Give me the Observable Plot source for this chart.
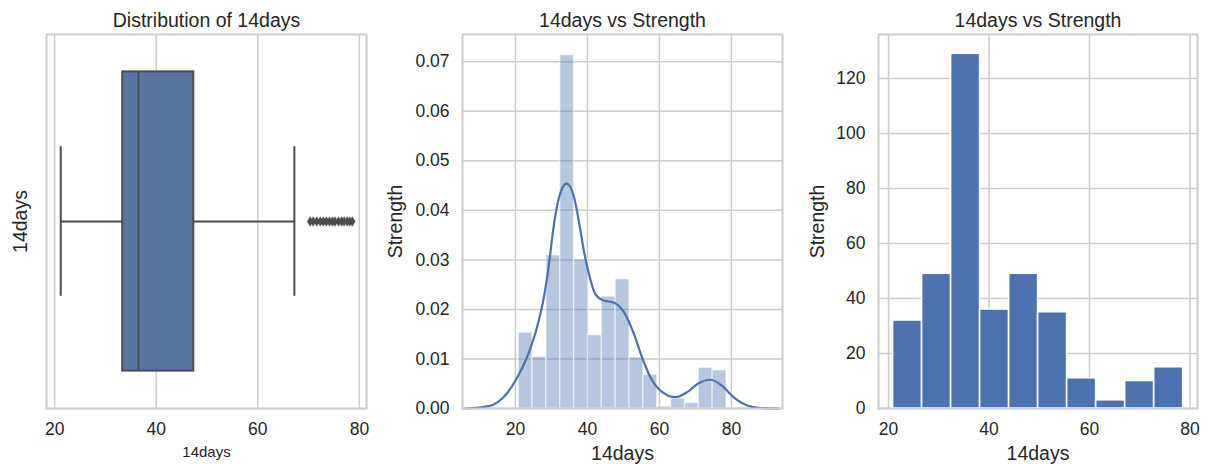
<!DOCTYPE html>
<html>
<head>
<meta charset="utf-8">
<script src="https://cdn.jsdelivr.net/npm/d3@7"></script>
<script src="https://cdn.jsdelivr.net/npm/@observablehq/plot@0.6"></script>
<style>
  html, body { margin: 0; padding: 0; background: white; }
  #wrap { position: relative; width: 1207px; height: 464px; background: white; overflow: hidden; }
  #wrap > svg { position: absolute; top: 0; }
</style>
</head>
<body>
<div id="wrap"></div>
<script>
// ---------- data ----------
const titles = ["Distribution of 14days", "14days vs Strength", "14days vs Strength"];
const xLabel = "14days";
const yLabels = ["14days", "Strength", "Strength"];
const xTicks = [20, 40, 60, 80];

// box plot: whisker low, Q1, median, Q3, whisker high
const boxStats = [21.2, 33.4, 36.5, 47.4, 67.2];
const outliers = [70.3, 70.9, 71.6, 72.3, 72.9, 73.5, 74.1, 74.7, 75.2, 75.9, 76.5, 77.0, 77.6, 78.1, 78.6];

// density histogram + KDE
const densityEdges = [20.9, 24.75, 28.6, 32.45, 36.3, 40.15, 44.0, 47.85, 51.7, 55.55, 59.4, 63.25, 67.1, 70.95, 74.8, 78.65];
const densityValues = [0.0153, 0.0104, 0.0309, 0.0713, 0.0301, 0.0148, 0.0226, 0.0261, 0.0103, 0.0068, 0.0004, 0.0020, 0.0011, 0.0082, 0.0077];
const densityTicks = [0, 0.01, 0.02, 0.03, 0.04, 0.05, 0.06, 0.07];
const kdeX = [6.1, 8.4, 11, 14.0, 16.75, 20, 23.2, 26.0, 27.9, 29.3, 30.6, 32.0, 34.2, 36.2, 37.6, 39.0, 40.4, 42.2, 44.5, 47.3, 50.1, 52.9, 55.2, 57.5, 60.3, 64.4, 67.7, 70.9, 74.2, 77.4, 80.6, 84.4, 88, 93];
const kdeY = [0, 0.0001, 0.0003, 0.0008, 0.0023, 0.0056, 0.0103, 0.0164, 0.0224, 0.0290, 0.0366, 0.0423, 0.0454, 0.0429, 0.0379, 0.0319, 0.0272, 0.0231, 0.0218, 0.0214, 0.0195, 0.0151, 0.0103, 0.0063, 0.0036, 0.0023, 0.0033, 0.0051, 0.0058, 0.0046, 0.0023, 0.0006, 0.0001, 0];

// count histogram
const countEdges = [20.9, 26.675, 32.45, 38.225, 44.0, 49.775, 55.55, 61.325, 67.1, 72.875, 78.65];
const counts = [32, 49, 129, 36, 49, 35, 11, 3, 10, 15];
const countTicks = [0, 20, 40, 60, 80, 100, 120];

// ---------- style ----------
const font = '"Liberation Sans", Arial, Helvetica, sans-serif';
const ink = "#262626";
const gridColor = "#cccccc";
const blue = "#4c72b0";
const boxFill = "#5875a4";
const boxEdge = "#4c4c4c";
const tickFont = 17.5;
const labelFont = 19.5;

const thinDiamond = {
  draw(context, size) {
    const h = Math.sqrt(size) * 0.75;
    const w = h * 0.6;
    context.moveTo(0, -h);
    context.lineTo(w, 0);
    context.lineTo(0, h);
    context.lineTo(-w, 0);
    context.closePath();
  }
};

const common = {
  height: 464,
  marginTop: 34,
  marginBottom: 56,
  style: { fontFamily: font, fontSize: tickFont + "px", color: ink, background: "transparent", overflow: "visible" }
};

function titleMark(t) {
  return Plot.text([t], { text: d => d, frameAnchor: "top", lineAnchor: "middle", textAnchor: "middle", dy: -14, fontSize: labelFont, fill: ink });
}
function xLabelMark(t, size, dy) {
  return Plot.text([t], { text: d => d, frameAnchor: "bottom", lineAnchor: "middle", textAnchor: "middle", dy: dy, fontSize: size, fill: ink });
}
function yLabelMark(t, dx) {
  return Plot.text([t], { text: d => d, frameAnchor: "left", lineAnchor: "middle", textAnchor: "middle", dx: dx, rotate: -90, fontSize: labelFont, fill: ink });
}

// ---------- panel 1: box plot ----------
const box = [{ lo: boxStats[0], q1: boxStats[1], med: boxStats[2], q3: boxStats[3], hi: boxStats[4] }];
const p1 = Plot.plot({
  ...common,
  width: 380,
  marginLeft: 46,
  marginRight: 14,
  x: { domain: [18.4, 81.4], axis: null, label: null },
  y: { domain: [-0.5, 0.5], axis: null, label: null },
  marks: [
    Plot.gridX(xTicks, { stroke: gridColor, strokeOpacity: 1, strokeWidth: 1.5 }),
    Plot.ruleY(box, { y: 0, x1: "lo", x2: "q1", stroke: boxEdge, strokeWidth: 2 }),
    Plot.ruleY(box, { y: 0, x1: "q3", x2: "hi", stroke: boxEdge, strokeWidth: 2 }),
    Plot.ruleX([boxStats[0], boxStats[4]], { x: d => d, y1: -0.2, y2: 0.2, stroke: boxEdge, strokeWidth: 2 }),
    Plot.rect(box, { x1: "q1", x2: "q3", y1: -0.4, y2: 0.4, fill: boxFill, stroke: boxEdge, strokeWidth: 2 }),
    Plot.ruleX(box, { x: "med", y1: -0.4, y2: 0.4, stroke: boxEdge, strokeWidth: 2 }),
    Plot.dot(outliers, { x: d => d, y: 0, symbol: thinDiamond, r: 3.6, fill: boxEdge, stroke: boxEdge, strokeWidth: 0.5 }),
    Plot.frame({ stroke: gridColor, strokeWidth: 2 }),
    Plot.axisX(xTicks, { tickSize: 0, tickPadding: 14, label: null, fontSize: tickFont }),
    titleMark(titles[0]),
    xLabelMark(xLabel, 15, 44),
    yLabelMark(yLabels[0], -26)
  ]
});
p1.style.left = "0px";

// ---------- panel 2: density histogram + KDE ----------
const densityBins = densityValues.map((v, i) => ({ x1: densityEdges[i], x2: densityEdges[i + 1], y: v }));
const kde = kdeX.map((x, i) => ({ x, y: kdeY[i] }));
const p2 = Plot.plot({
  ...common,
  width: 410,
  marginLeft: 82,
  marginRight: 8,
  x: { domain: [5.3, 94.2], axis: null, label: null },
  y: { domain: [0, 0.0755], axis: null, label: null },
  marks: [
    Plot.gridX(xTicks, { stroke: gridColor, strokeOpacity: 1, strokeWidth: 1.5 }),
    Plot.gridY(densityTicks, { stroke: gridColor, strokeOpacity: 1, strokeWidth: 1.5 }),
    Plot.rectY(densityBins, { x1: "x1", x2: "x2", y: "y", fill: blue, fillOpacity: 0.4, stroke: "white", strokeOpacity: 0.5, strokeWidth: 1.5 }),
    Plot.line(kde, { x: "x", y: "y", stroke: blue, strokeWidth: 2.2, curve: "monotone-x" }),
    Plot.frame({ stroke: gridColor, strokeWidth: 2 }),
    Plot.axisX(xTicks, { tickSize: 0, tickPadding: 14, label: null, fontSize: tickFont }),
    Plot.axisY(densityTicks, { tickSize: 0, tickPadding: 13, label: null, tickFormat: d3.format(".2f"), fontSize: tickFont }),
    titleMark(titles[1]),
    xLabelMark(xLabel, labelFont, 45),
    yLabelMark(yLabels[1], -67)
  ]
});
p2.style.left = "380px";

// ---------- panel 3: count histogram ----------
const countBins = counts.map((v, i) => ({ x1: countEdges[i], x2: countEdges[i + 1], y: v }));
const p3 = Plot.plot({
  ...common,
  width: 417,
  marginLeft: 88,
  marginRight: 10,
  x: { domain: [18.0, 81.5], axis: null, label: null },
  y: { domain: [0, 136], axis: null, label: null },
  marks: [
    Plot.gridX(xTicks, { stroke: gridColor, strokeOpacity: 1, strokeWidth: 1.5 }),
    Plot.gridY(countTicks, { stroke: gridColor, strokeOpacity: 1, strokeWidth: 1.5 }),
    Plot.rectY(countBins, { x1: "x1", x2: "x2", y: "y", fill: blue, stroke: "white", strokeWidth: 1.6 }),
    Plot.frame({ stroke: gridColor, strokeWidth: 2 }),
    Plot.axisX(xTicks, { tickSize: 0, tickPadding: 14, label: null, fontSize: tickFont }),
    Plot.axisY(countTicks, { tickSize: 0, tickPadding: 13, label: null, fontSize: tickFont }),
    titleMark(titles[2]),
    xLabelMark(xLabel, labelFont, 45),
    yLabelMark(yLabels[2], -61)
  ]
});
p3.style.left = "790px";

const wrap = document.getElementById("wrap");
wrap.append(p1, p2, p3);
</script>
</body>
</html>
